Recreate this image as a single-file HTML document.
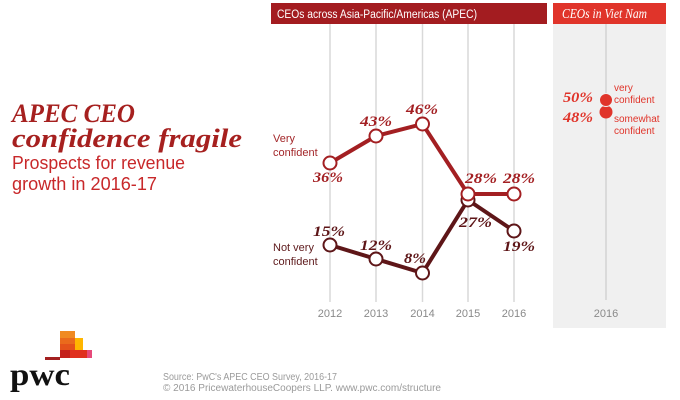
<!DOCTYPE html>
<html>
<head>
<meta charset="utf-8">
<style>
html,body{margin:0;padding:0;background:#fff;}
svg{display:block;}
</style>
</head>
<body>
<svg width="680" height="400" viewBox="0 0 680 400" xmlns="http://www.w3.org/2000/svg">
  <rect x="0" y="0" width="680" height="400" fill="#ffffff"/>

  <!-- Title -->
  <text x="12" y="122" font-family="Liberation Serif, serif" font-weight="bold" font-style="italic" font-size="26" fill="#a6201f" textLength="123" lengthAdjust="spacingAndGlyphs">APEC CEO</text>
  <text x="12" y="147" font-family="Liberation Serif, serif" font-weight="bold" font-style="italic" font-size="26" fill="#a6201f" textLength="230" lengthAdjust="spacingAndGlyphs">confidence fragile</text>
  <text x="12" y="169" font-family="Liberation Sans, sans-serif" font-size="18" fill="#c8282a" textLength="173" lengthAdjust="spacingAndGlyphs">Prospects for revenue</text>
  <text x="12" y="190" font-family="Liberation Sans, sans-serif" font-size="18" fill="#c8282a" textLength="145" lengthAdjust="spacingAndGlyphs">growth in 2016-17</text>

  <!-- Headers -->
  <rect x="271" y="3" width="276" height="21" fill="#a31c20"/>
  <text x="277" y="18" font-family="Liberation Sans, sans-serif" font-size="11.5" fill="#ffffff" textLength="200" lengthAdjust="spacingAndGlyphs">CEOs across Asia-Pacific/Americas (APEC)</text>

  <rect x="553" y="24" width="113" height="304" fill="#f0f0f0"/>
  <rect x="553" y="3" width="113" height="21" fill="#e0342a"/>
  <text x="562" y="18" font-family="Liberation Serif, serif" font-style="italic" font-size="13.5" fill="#ffffff" textLength="85" lengthAdjust="spacingAndGlyphs">CEOs in Viet Nam</text>

  <!-- Gridlines -->
  <g stroke="#d9d9d9" stroke-width="1.5">
    <line x1="330" y1="24" x2="330" y2="302"/>
    <line x1="376" y1="24" x2="376" y2="302"/>
    <line x1="422.5" y1="24" x2="422.5" y2="302"/>
    <line x1="468" y1="24" x2="468" y2="302"/>
    <line x1="514" y1="24" x2="514" y2="302"/>
  </g>
  <line x1="606" y1="24" x2="606" y2="300" stroke="#d3d3d3" stroke-width="1.5"/>

  <!-- Year labels -->
  <g font-family="Liberation Sans, sans-serif" font-size="11" fill="#8a8a8a" text-anchor="middle">
    <text x="330" y="317">2012</text>
    <text x="376" y="317">2013</text>
    <text x="422.5" y="317">2014</text>
    <text x="468" y="317">2015</text>
    <text x="514" y="317">2016</text>
    <text x="606" y="317">2016</text>
  </g>

  <!-- Series labels -->
  <g font-family="Liberation Sans, sans-serif" font-size="11">
    <text x="273" y="142" fill="#a3272a">Very</text>
    <text x="273" y="156" fill="#a3272a">confident</text>
    <text x="273" y="251" fill="#5e1a1c">Not very</text>
    <text x="273" y="265" fill="#5e1a1c">confident</text>
  </g>

  <!-- Not very confident series -->
  <polyline points="330,245 376,259 422.5,273 468,200 514,231" fill="none" stroke="#5e1618" stroke-width="4" stroke-linejoin="round"/>
  <g fill="#ffffff" stroke="#5e1618" stroke-width="2">
    <circle cx="330" cy="245" r="6.5"/>
    <circle cx="376" cy="259" r="6.5"/>
    <circle cx="422.5" cy="273" r="6.5"/>
    <circle cx="468" cy="200" r="6.5"/>
    <circle cx="514" cy="231" r="6.5"/>
  </g>

  <!-- Very confident series -->
  <polyline points="330,163 376,136 422.5,124 468,194 514,194" fill="none" stroke="#a31f22" stroke-width="4" stroke-linejoin="round"/>
  <g fill="#ffffff" stroke="#a31f22" stroke-width="2">
    <circle cx="330" cy="163" r="6.5"/>
    <circle cx="376" cy="136" r="6.5"/>
    <circle cx="422.5" cy="124" r="6.5"/>
    <circle cx="468" cy="194" r="6.5"/>
    <circle cx="514" cy="194" r="6.5"/>
  </g>

  <!-- Value labels: very confident -->
  <g font-family="Liberation Serif, serif" font-weight="bold" font-style="italic" font-size="15" fill="#a31f22">
    <text x="313" y="182" textLength="30" lengthAdjust="spacingAndGlyphs">36%</text>
    <text x="360" y="126" textLength="32" lengthAdjust="spacingAndGlyphs">43%</text>
    <text x="406" y="114" textLength="32" lengthAdjust="spacingAndGlyphs">46%</text>
    <text x="465" y="183" textLength="32" lengthAdjust="spacingAndGlyphs">28%</text>
    <text x="503" y="183" textLength="32" lengthAdjust="spacingAndGlyphs">28%</text>
  </g>
  <!-- Value labels: not very confident -->
  <g font-family="Liberation Serif, serif" font-weight="bold" font-style="italic" font-size="15" fill="#5e1618">
    <text x="313" y="236" textLength="32" lengthAdjust="spacingAndGlyphs">15%</text>
    <text x="360" y="250" textLength="32" lengthAdjust="spacingAndGlyphs">12%</text>
    <text x="404" y="263" textLength="22" lengthAdjust="spacingAndGlyphs">8%</text>
    <text x="459" y="227" textLength="33" lengthAdjust="spacingAndGlyphs">27%</text>
    <text x="503" y="251" textLength="32" lengthAdjust="spacingAndGlyphs">19%</text>
  </g>

  <!-- Viet Nam -->
  <circle cx="606" cy="112" r="6.5" fill="#e0342a"/>
  <circle cx="606" cy="100" r="6.5" fill="#e0342a" stroke="#f0f0f0" stroke-width="1"/>
  <g font-family="Liberation Serif, serif" font-weight="bold" font-style="italic" font-size="15" fill="#e0342a">
    <text x="563" y="102" textLength="30" lengthAdjust="spacingAndGlyphs">50%</text>
    <text x="563" y="122" textLength="30" lengthAdjust="spacingAndGlyphs">48%</text>
  </g>
  <g font-family="Liberation Sans, sans-serif" font-size="10" fill="#e0342a">
    <text x="614" y="91">very</text>
    <text x="614" y="103">confident</text>
    <text x="614" y="122">somewhat</text>
    <text x="614" y="134">confident</text>
  </g>

  <!-- Source -->
  <g font-family="Liberation Sans, sans-serif" font-size="10" fill="#9a9a9a">
    <text x="163" y="380" textLength="174" lengthAdjust="spacingAndGlyphs">Source: PwC's APEC CEO Survey, 2016-17</text>
    <text x="163" y="391" textLength="278" lengthAdjust="spacingAndGlyphs">© 2016 PricewaterhouseCoopers LLP. www.pwc.com/structure</text>
  </g>

  <!-- PwC logo -->
  <rect x="60" y="331" width="15" height="7" fill="#f08a22"/>
  <rect x="60" y="338" width="15" height="6" fill="#ea6a1c"/>
  <rect x="75" y="338" width="8" height="12" fill="#ffb600"/>
  <rect x="60" y="344" width="15" height="6" fill="#e4521a"/>
  <rect x="60" y="350" width="10" height="8" fill="#c4221c"/>
  <rect x="70" y="350" width="17" height="8" fill="#e0301e"/>
  <rect x="87" y="350" width="5" height="8" fill="#e6497a"/>
  <rect x="45" y="357" width="15" height="3" fill="#a32020"/>
  <text x="10" y="385" font-family="Liberation Serif, serif" font-weight="bold" font-size="32" fill="#111111" textLength="60" lengthAdjust="spacingAndGlyphs">pwc</text>
</svg>
</body>
</html>
